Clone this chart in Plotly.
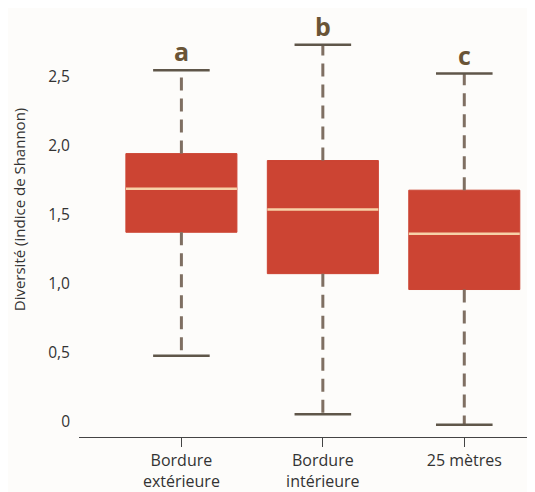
import plotly.graph_objects as go

categories = ["Bordure<br>extérieure", "Bordure<br>intérieure", "25 mètres"]
letters = ["a", "b", "c"]
lower_whisker = [0.48, 0.055, -0.02]
q1 = [1.375, 1.075, 0.96]
median = [1.69, 1.54, 1.365]
q3 = [1.945, 1.895, 1.68]
upper_whisker = [2.55, 2.735, 2.525]

y_tickvals = [0, 0.5, 1.0, 1.5, 2.0, 2.5]
y_ticktext = ["0", "0,5", "1,0", "1,5", "2,0", "2,5"]
y_title = "Diversité (indice de Shannon)"

BOX_W = 0.785
CAP_HALF = 0.2
FILL = "#cc4433"
MEDIAN_C = "#f7d2a8"
WHISK_C = "#7f6f62"
CAP_C = "#5f5649"
LETTER_C = "#6a5436"

xs = list(range(len(categories)))
fig = go.Figure()

fig.add_trace(go.Box(
    x=xs, q1=q1, median=median, q3=q3,
    lowerfence=q1, upperfence=q3,
    width=BOX_W, fillcolor=FILL,
    line=dict(color=FILL, width=1),
    whiskerwidth=0, showlegend=False, hoverinfo="skip",
))

for i in xs:
    # whiskers
    fig.add_trace(go.Scatter(
        x=[i, i], y=[q3[i], upper_whisker[i]], mode="lines",
        line=dict(color=WHISK_C, width=3, dash="13px,8px"),
        showlegend=False, hoverinfo="skip"))
    fig.add_trace(go.Scatter(
        x=[i, i], y=[q1[i], lower_whisker[i]], mode="lines",
        line=dict(color=WHISK_C, width=3, dash="13px,8px"),
        showlegend=False, hoverinfo="skip"))
    # caps
    for v in (upper_whisker[i], lower_whisker[i]):
        fig.add_trace(go.Scatter(
            x=[i - CAP_HALF, i + CAP_HALF], y=[v, v], mode="lines",
            line=dict(color=CAP_C, width=2.5),
            showlegend=False, hoverinfo="skip"))
    # median
    fig.add_trace(go.Scatter(
        x=[i - BOX_W / 2, i + BOX_W / 2], y=[median[i], median[i]], mode="lines",
        line=dict(color=MEDIAN_C, width=2.5),
        showlegend=False, hoverinfo="skip"))
    fig.add_annotation(
        x=i, y=upper_whisker[i], text="<b>%s</b>" % letters[i],
        showarrow=False, yanchor="bottom", yshift=0,
        font=dict(size=25, color=LETTER_C, family="Open Sans"))

# y-axis title placed as a rotated annotation (sits slightly above centre)
fig.add_annotation(
    xref="paper", yref="paper", x=-0.131, y=0.534,
    text=y_title, textangle=-90, showarrow=False,
    xanchor="center", yanchor="middle",
    font=dict(size=15, color="#333333", family="Open Sans"))

# page body has an 8px margin, so the figure is 8px smaller and shifted
fig.update_layout(
    width=527, height=484,
    margin=dict(l=71, r=0, t=2, b=55, autoexpand=False),
    paper_bgcolor="#fdfcfa", plot_bgcolor="#fdfcfa",
    font=dict(family="Open Sans", size=14, color="#333333"),
    showlegend=False,
)
fig.update_xaxes(
    range=[-0.724, 2.5], tickvals=xs, ticktext=categories,
    showline=True, linecolor="#444444", linewidth=1.2,
    ticks="outside", ticklen=9, tickcolor="#444444", tickwidth=1.2,
    showgrid=False, zeroline=False,
    tickfont=dict(size=16, color="#333333"),
)
fig.update_yaxes(
    range=[-0.109, 2.986], tickvals=y_tickvals, ticktext=y_ticktext,
    showline=False, showgrid=False, zeroline=False, ticks="",
    ticklabelstandoff=8,
    tickfont=dict(size=15.5, color="#333333"),
)

fig.write_html("out.html")
